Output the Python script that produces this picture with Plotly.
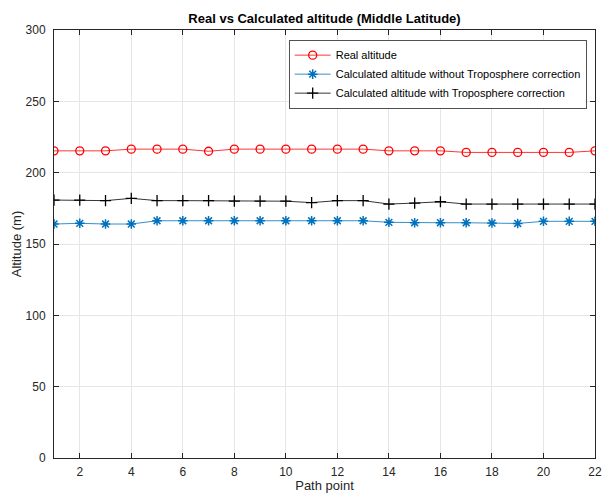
import plotly.graph_objects as go

path_points = list(range(1, 23))
real_altitude = [215.3, 215.3, 215.3, 216.5, 216.5, 216.5, 215.0, 216.5, 216.5, 216.5, 216.5,
                 216.5, 216.5, 215.3, 215.3, 215.3, 214.2, 214.2, 214.2, 214.2, 214.2, 215.3]
calc_without_tropo = [164.0, 164.5, 164.0, 164.0, 166.3, 166.3, 166.3, 166.3, 166.3, 166.3, 166.3,
                      166.3, 166.3, 165.2, 164.9, 164.9, 164.9, 164.7, 164.4, 165.9, 165.9, 165.9]
calc_with_tropo = [180.8, 180.8, 180.4, 182.0, 180.4, 180.4, 180.4, 180.0, 180.0, 180.0, 179.0,
                   180.4, 180.4, 178.0, 178.7, 179.6, 178.0, 178.0, 178.0, 178.0, 178.0, 178.0]
x_ticks = list(range(2, 23, 2))
y_ticks = list(range(0, 301, 50))

FONT = "Liberation Sans, Arial, sans-serif"
AX = "#262626"

fig = go.Figure()
fig.add_trace(go.Scatter(
    x=path_points, y=real_altitude, mode="lines+markers", name="Real altitude",
    line=dict(color="#ff0000", width=0.8),
    marker=dict(symbol="circle-open", size=8, color="#ff0000", line=dict(width=1.3)),
))
fig.add_trace(go.Scatter(
    x=path_points, y=calc_without_tropo, mode="lines+markers",
    name="Calculated altitude without Troposphere correction",
    line=dict(color="#0072BD", width=0.8),
    marker=dict(symbol="asterisk-open", size=8, color="#0072BD", line=dict(width=1.5, color="#0072BD")),
))
fig.add_trace(go.Scatter(
    x=path_points, y=calc_with_tropo, mode="lines+markers",
    name="Calculated altitude with Troposphere correction",
    line=dict(color="#000000", width=0.8),
    marker=dict(symbol="cross-thin-open", size=8, color="#000000", line=dict(width=1.3, color="#000000")),
))

fig.update_layout(
    width=603, height=493,
    margin=dict(l=54, r=8, t=30, b=35, autoexpand=False),
    paper_bgcolor="white", plot_bgcolor="white",
    font=dict(family=FONT, size=12, color=AX),
    title=dict(text="<b>Real vs Calculated altitude (Middle Latitude)</b>",
               x=(54 + 595) / 2 / 603, xanchor="center", y=1 - 18 / 493, yanchor="middle",
               font=dict(size=13, color="#000000")),
    showlegend=True,
    legend=dict(x=0.985, y=0.977, xanchor="right", yanchor="top",
                bgcolor="white", bordercolor=AX, borderwidth=0.8,
                font=dict(size=11, color="#000000"), tracegroupgap=0,
                itemwidth=36),
    xaxis=dict(range=[1, 22], tickvals=x_ticks, ticks="inside", ticklen=5, tickcolor=AX,
               showline=True, linecolor=AX, linewidth=1, mirror="ticks", automargin=False,
               ticklabeloverflow="allow", ticklabelstandoff=3,
               showgrid=True, gridcolor="#e6e6e6", gridwidth=1, zeroline=False,
               title=dict(text="Path point", font=dict(size=13, color=AX), standoff=6),
               tickfont=dict(size=12, color=AX)),
    yaxis=dict(range=[0, 300], tickvals=y_ticks, ticks="inside", ticklen=5, tickcolor=AX,
               showline=True, linecolor=AX, linewidth=1, mirror="ticks", automargin=False,
               ticklabelstandoff=5,
               showgrid=True, gridcolor="#e6e6e6", gridwidth=1, zeroline=False,
               title=dict(text="Altitude (m)", font=dict(size=13, color=AX), standoff=1),
               tickfont=dict(size=12, color=AX)),
)

fig.write_html("out.html")
